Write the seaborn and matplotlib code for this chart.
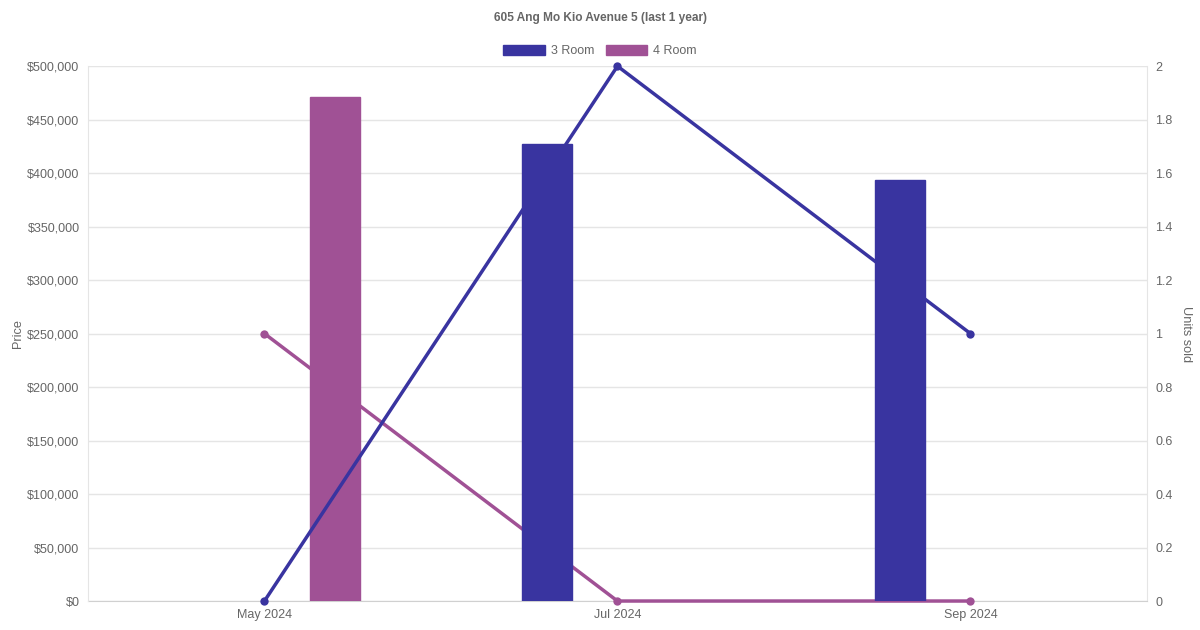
import pandas as pd
import matplotlib
matplotlib.use("Agg")
import matplotlib.pyplot as plt
import seaborn as sns
from matplotlib.colors import to_rgba
from matplotlib.patches import Patch
from matplotlib.ticker import FuncFormatter

# ---------- data ----------
months = ["May 2024", "Jul 2024", "Sep 2024"]
room_types = ["3 Room", "4 Room"]

# average price bars (missing month = no bar)
price_3room = [None, 427000, 394000]
price_4room = [471000, None, None]

# units sold lines
units_3room = [0, 2, 1]
units_4room = [1, 0, 0]

colors = {"3 Room": "#3934A0", "4 Room": "#A05195"}
text_col = "#666666"
grid_col = "#E5E5E5"

# ---------- long tables ----------
rows = []
for m, p3, p4 in zip(months, price_3room, price_4room):
    if p3 is not None:
        rows.append({"month": m, "type": "3 Room", "price": p3})
    if p4 is not None:
        rows.append({"month": m, "type": "4 Room", "price": p4})
df_price = pd.DataFrame(rows)

df_units = pd.DataFrame({
    "pos": list(range(len(months))) * 2,
    "type": ["3 Room"] * len(months) + ["4 Room"] * len(months),
    "units": units_3room + units_4room,
})

sns.set_style("white")
plt.rcParams["font.family"] = ["Liberation Sans", "DejaVu Sans"]

fig = plt.figure(figsize=(12, 6.3), dpi=100)
ax = fig.add_axes([0.0733, 0.046, 0.8825, 0.849])
ax2 = ax.twinx()

# price axes drawn on top of the units axes (which holds the grid)
ax.set_zorder(ax2.get_zorder() + 1)
ax.patch.set_visible(False)

sns.barplot(data=df_price, x="month", y="price", hue="type", order=months,
            hue_order=room_types, palette=colors, width=0.8, dodge=True,
            errorbar=None, ax=ax, legend=False, saturation=1)

sns.lineplot(data=df_units, x="pos", y="units", hue="type", hue_order=room_types,
             palette=colors, marker="o", markersize=6, markeredgewidth=0,
             linewidth=2.5, ax=ax2, legend=False, clip_on=False)

# chart.js stacking: 4 Room line < 4 Room bar < 3 Room line < 3 Room bar
z_bar = {"3 Room": 4, "4 Room": 2}
z_line = {"3 Room": 3, "4 Room": 1}

bar_w = 0.142
for p in ax.patches:
    c = p.get_x() + p.get_width() / 2
    p.set_width(bar_w)
    p.set_x(c - bar_w / 2)
    p.set_edgecolor(p.get_facecolor())
    for t in room_types:
        if to_rgba(colors[t])[:3] == tuple(round(v, 6) for v in p.get_facecolor()[:3]) or \
           max(abs(a - b) for a, b in zip(to_rgba(colors[t])[:3], p.get_facecolor()[:3])) < 0.01:
            p.set_zorder(z_bar[t])

# move the unit lines into the price axes (keeping their own scale) so they interleave with bars
for ln in list(ax2.get_lines()):
    col = to_rgba(ln.get_color())
    for t in room_types:
        if max(abs(a - b) for a, b in zip(to_rgba(colors[t])[:3], col[:3])) < 0.01:
            ln.remove()
            ln.set_transform(ax2.transData)
            ax.add_line(ln)
            ln.set_zorder(z_line[t])
            ln.set_clip_on(False)

ax.set_xlim(-0.5, len(months) - 0.5)
ax.set_ylim(0, 500000)
ax.set_yticks(range(0, 500001, 50000))
ax.yaxis.set_major_formatter(FuncFormatter(lambda v, _: f"${v:,.0f}"))
ax.set_xlabel("")
ax.set_ylabel("Price", color=text_col, fontsize=9.2, labelpad=2)

ax2.set_ylim(0, 2)
ax2.set_yticks([0, 0.2, 0.4, 0.6, 0.8, 1, 1.2, 1.4, 1.6, 1.8, 2])
ax2.yaxis.set_major_formatter(FuncFormatter(lambda v, _: f"{v:g}"))
ax2.set_xlim(-0.5, len(months) - 0.5)
ax2.grid(axis="y", color=grid_col, linewidth=1)
ax2.set_axisbelow(True)
ax2.set_ylabel("Units sold", color=text_col, fontsize=9.2, rotation=270, labelpad=14)
ax2.set_xlabel("")

for a in (ax, ax2):
    for s in a.spines.values():
        s.set_visible(False)
    a.tick_params(colors=text_col, labelsize=9.0, length=0, pad=6)
ax.spines["left"].set_visible(True)
ax.spines["left"].set_color(grid_col)
ax.spines["bottom"].set_visible(True)
ax.spines["bottom"].set_color("#D0D0D0")
ax.spines["bottom"].set_zorder(0.5)
ax2.spines["right"].set_visible(True)
ax2.spines["right"].set_color(grid_col)

fig.text(0.5, 0.972, "605 Ang Mo Kio Avenue 5 (last 1 year)", ha="center", va="center",
         color=text_col, fontsize=8.6, fontweight="bold")

handles = [Patch(facecolor=colors[t], edgecolor=colors[t]) for t in room_types]
fig.legend(handles, room_types, loc="center", bbox_to_anchor=(0.5, 0.919), ncol=2,
           frameon=False, fontsize=9.0, labelcolor=text_col, handlelength=3.3,
           handleheight=0.9, handletextpad=0.5, columnspacing=0.9)

fig.savefig("out.png", dpi=100, facecolor="white")
